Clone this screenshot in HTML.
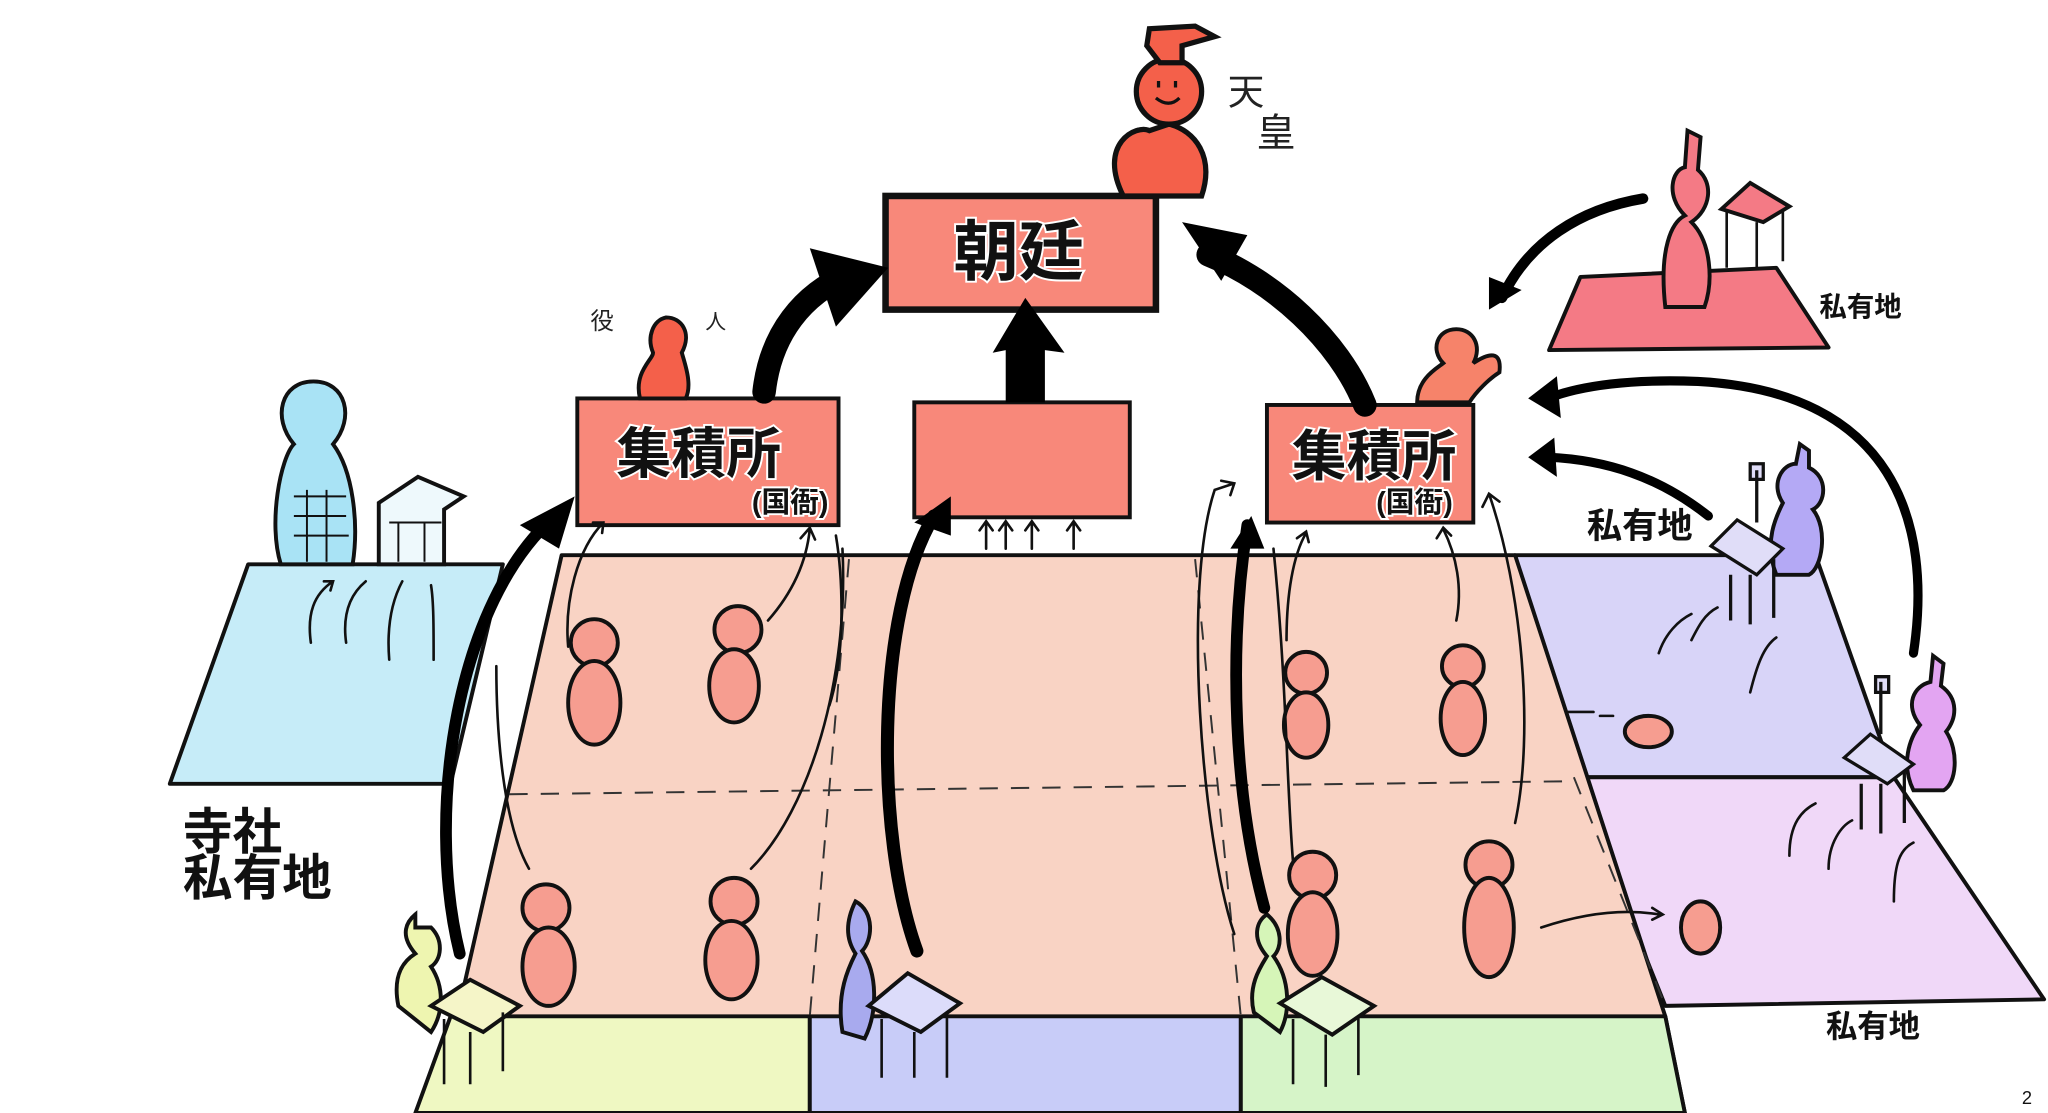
<!DOCTYPE html>
<html><head><meta charset="utf-8"><style>
html,body{margin:0;padding:0;background:#fff;}
svg{display:block}
.t{font-family:"Liberation Sans","Noto Sans CJK JP",sans-serif;font-weight:bold;}
</style></head><body>
<svg width="2048" height="1113" viewBox="0 0 1568 852" preserveAspectRatio="none" xmlns="http://www.w3.org/2000/svg">
<rect width="1568" height="852" fill="#fff"/>
<g stroke="#111" stroke-width="3" stroke-linejoin="round">
<!-- left blue land -->
<polygon points="190,432 385,432 345,600 130,600" fill="#c6ecf8"/>
<!-- purple right -->
<polygon points="1160,425 1390,425 1450,595 1205,595" fill="#d8d4f8"/>
<polygon points="1205,595 1450,595 1565,765 1275,770" fill="#f0d8f8"/>
<!-- central salmon -->
<polygon points="430,425 1160,425 1275,778 1290,852 320,852 350,778" fill="#f9d3c4"/>
<!-- bottom strips -->
<polygon points="345,778 620,778 620,852 318,852" fill="#eff8c2"/>
<polygon points="620,778 950,778 950,852 620,852" fill="#c8ccf8"/>
<polygon points="950,778 1275,778 1290,852 950,852" fill="#d6f4c8"/>
<!-- top-right red ground -->
<polygon points="1210,212 1360,205 1400,266 1186,268" fill="#f47a85"/>
</g>
<g stroke="#333" stroke-width="1.5" fill="none" stroke-dasharray="14 10">
<line x1="650" y1="428" x2="620" y2="778"/>
<line x1="915" y1="428" x2="950" y2="778"/>
<line x1="390" y1="608" x2="1205" y2="598"/>
<line x1="1205" y1="595" x2="1275" y2="770"/>
</g>
<!-- boxes -->
<g stroke="#111" stroke-width="5" fill="#f8887a">
<rect x="678" y="150" width="207" height="87"/>
<rect x="442" y="305" width="200" height="97" stroke-width="3"/>
<rect x="700" y="308" width="165" height="88" stroke-width="3"/>
<rect x="970" y="310" width="158" height="90" stroke-width="3"/>
</g>
<!-- emperor -->
<g stroke="#111" stroke-width="4" fill="#f4604a">
<path d="M860,150 C840,110 870,95 880,100 L895,95 C915,100 930,120 920,150 Z"/>
<circle cx="895" cy="70" r="25"/>
<path d="M878,35 L880,22 L915,20 L930,28 L905,35 L905,48 L888,48 Z"/>
</g>
<g stroke="#111" stroke-width="2.5" fill="none"><path d="M887,62 v5 M900,62 v5 M885,75 q10,8 18,0"/></g>
<!-- officials -->
<g stroke="#111" stroke-width="3" fill="#f4604a">
<path d="M490,305 C485,285 500,275 500,270 C495,258 500,245 510,243 C522,243 530,255 522,270 C525,280 530,295 525,305 Z"/>
<path d="M1085,308 C1085,290 1100,282 1105,278 C1095,268 1100,252 1115,252 C1128,252 1135,265 1128,278 C1140,270 1150,268 1148,285 C1140,290 1130,300 1125,308 Z" fill="#f6836a"/>
</g>
<!-- blue temple figure -->
<g stroke="#111" stroke-width="3" fill="#a9e3f5">
<path d="M215,432 C205,400 215,350 225,340 C208,320 215,292 240,292 C265,292 272,320 255,340 C270,360 275,400 270,432 Z"/>
<path d="M290,385 L320,365 L355,380 L340,390 L340,432 L290,432 Z" fill="#eef9fc"/>
</g>
<g stroke="#111" stroke-width="1.5" fill="none"><path d="M225,380 h40 M225,395 h40 M225,410 h42 M235,375 v55 M250,375 v55 M298,400 h40 M305,400 v30 M325,400 v30"/></g>
<!-- peasants salmon -->
<g stroke="#111" stroke-width="3" fill="#f69d90">
<g id="p1"><circle cx="455" cy="492" r="18"/><ellipse cx="455" cy="538" rx="20" ry="32"/></g>
<g><circle cx="565" cy="482" r="18"/><ellipse cx="562" cy="525" rx="19" ry="28"/></g>
<g><circle cx="418" cy="695" r="18"/><ellipse cx="420" cy="740" rx="20" ry="30"/></g>
<g><circle cx="562" cy="690" r="18"/><ellipse cx="560" cy="735" rx="20" ry="30"/></g>
<g><circle cx="1000" cy="515" r="16"/><ellipse cx="1000" cy="555" rx="17" ry="25"/></g>
<g><circle cx="1120" cy="510" r="16"/><ellipse cx="1120" cy="550" rx="17" ry="28"/></g>
<g><circle cx="1005" cy="670" r="18"/><ellipse cx="1005" cy="715" rx="19" ry="32"/></g>
<g><circle cx="1140" cy="662" r="18"/><ellipse cx="1140" cy="710" rx="19" ry="38"/></g>
<ellipse cx="1262" cy="560" rx="18" ry="12"/>
<ellipse cx="1302" cy="710" rx="15" ry="20"/>
</g>
<!-- red private owner -->
<g stroke="#111" stroke-width="3" fill="#f47a85">
<path d="M1275,235 C1270,190 1280,170 1290,165 C1275,150 1280,130 1290,128 L1292,100 L1302,105 L1300,130 C1312,140 1310,160 1295,170 C1310,185 1312,215 1305,235 Z"/>
<path d="M1318,160 L1340,140 L1370,158 L1350,170 Z"/>
</g>
<g stroke="#111" stroke-width="2" fill="none"><path d="M1322,160 v45 M1345,170 v35 M1365,160 v40"/></g>
<!-- purple figures -->
<g stroke="#111" stroke-width="3" fill="#b4a9f5">
<path d="M1360,440 C1350,415 1360,395 1365,385 C1355,370 1365,355 1375,355 L1378,340 L1385,345 L1385,358 C1400,365 1398,385 1388,390 C1400,405 1395,435 1385,440 Z"/>
<path d="M1465,605 C1455,585 1462,565 1470,555 C1458,540 1465,525 1478,522 L1480,502 L1488,508 L1486,525 C1500,535 1498,550 1490,560 C1500,575 1498,600 1488,605 Z" fill="#e3a5f2"/>
</g>
<g stroke="#111" stroke-width="2.5" fill="#e0ddf8">
<path d="M1310,418 L1330,398 L1365,420 L1345,440 Z"/>
<path d="M1325,440 v35 M1340,440 v38 M1358,428 v45"/>
<path d="M1412,580 L1432,562 L1465,585 L1445,600 Z"/>
<path d="M1425,600 v35 M1440,600 v38 M1458,590 v40"/>
<path d="M1345,360 v40 M1340,355 l10,0 l0,12 l-10,0 z M1440,522 v40 M1436,518 l10,0 l0,12 l-10,0 z"/>
</g>
<!-- bottom peasants with houses -->
<g stroke="#111" stroke-width="3">
<path d="M305,770 C300,745 310,735 318,730 C305,715 312,705 318,700 L318,710 L330,710 C340,720 338,735 330,740 C340,755 340,775 330,790 Z" fill="#eef5b0"/>
<path d="M645,790 C640,760 650,740 655,730 C645,715 650,700 655,690 C670,698 668,720 660,728 C672,745 672,775 662,795 Z" fill="#a8aaee"/>
<path d="M960,775 C955,755 965,740 970,732 C958,718 962,705 970,700 C982,710 982,725 975,732 C988,750 988,775 980,790 Z" fill="#d6f5b8"/>
<path d="M330,770 L360,750 L398,770 L370,790 Z" fill="#f5f5c8"/>
<path d="M665,770 L695,745 L735,768 L705,790 Z" fill="#dcdcfa"/>
<path d="M980,768 L1012,748 L1052,770 L1020,792 Z" fill="#e8f8d8"/>
</g>
<g stroke="#111" stroke-width="2" fill="none">
<path d="M340,780 v50 M360,790 v40 M385,775 v45 M675,780 v45 M700,790 v35 M725,775 v50 M990,780 v50 M1015,792 v40 M1040,778 v45"/>
</g>
<!-- thin arrows -->
<g stroke="#111" stroke-width="2" fill="none" stroke-linecap="round">
<path d="M238,492 C235,470 240,455 255,445 M248,445 l7,0 l-2,7"/>
<path d="M265,492 C262,470 268,455 280,445"/>
<path d="M298,505 C296,480 300,460 308,445"/>
<path d="M332,505 C332,480 332,460 330,448"/>
<path d="M435,495 C432,460 442,420 462,400 M454,400 l8,0 l-1,8"/>
<path d="M588,475 C610,450 618,425 620,405 M613,412 l7,-8 l4,9"/>
<path d="M635,540 C648,500 645,440 640,410"/>
<path d="M575,665 C620,620 650,520 645,420"/>
<path d="M405,665 C385,630 380,560 380,510"/>
<path d="M755,420 v-20 M770,420 v-20 M790,420 v-20 M822,420 v-20 M750,406 l5,-7 l5,7 M765,406 l5,-7 l5,7 M785,406 l5,-7 l5,7 M817,406 l5,-7 l5,7"/>
<path d="M985,490 C985,455 990,425 1000,408 M993,412 l7,-5 l2,8"/>
<path d="M1115,475 C1120,450 1115,425 1105,405 M1100,412 l5,-8 l6,6"/>
<path d="M1160,630 C1175,560 1165,450 1140,378 M1135,388 l5,-10 l8,6"/>
<path d="M990,660 C985,600 985,520 975,420"/>
<path d="M945,715 C920,640 905,450 930,375 L945,370 M935,368 l10,2 l-3,9"/>
<path d="M1270,500 C1275,485 1285,475 1295,470 M1295,490 C1300,480 1305,470 1315,465 M1340,530 C1345,510 1350,495 1360,488"/>
<path d="M1370,655 C1370,630 1380,620 1390,615 M1400,665 C1400,645 1410,632 1418,628 M1450,690 C1450,660 1455,650 1465,645"/>
<path d="M1200,545 h20 M1225,548 h10 M1180,710 C1210,700 1240,695 1270,700 M1265,695 l8,5 l-8,4"/>
</g>
<!-- big arrows -->
<g stroke="#000" fill="none" stroke-linecap="round">
<path d="M585,300 C590,255 615,225 650,210" stroke-width="18"/>
<path d="M1045,310 C1025,260 975,215 925,195" stroke-width="18"/>
<path d="M1258,152 C1210,160 1170,185 1150,228" stroke-width="8"/>
<path d="M1465,500 C1480,400 1450,300 1300,292 C1250,290 1210,295 1185,305" stroke-width="7"/>
<path d="M1308,395 C1270,365 1230,352 1185,350" stroke-width="7"/>
<path d="M352,730 C325,620 350,460 425,395" stroke-width="9"/>
<path d="M702,728 C670,640 670,470 715,395" stroke-width="10"/>
<path d="M968,695 C945,610 940,500 955,402" stroke-width="9"/>
</g>
<g fill="#000">
<polygon points="620,190 680,205 640,250"/>
<polygon points="905,170 955,180 935,215"/>
<polygon points="760,270 785,228 815,270 800,268 800,308 770,308 770,268"/>
<polygon points="1140,237 1140,212 1165,222"/>
<polygon points="1170,305 1192,288 1195,320"/>
<polygon points="1170,350 1190,335 1192,365"/>
<polygon points="440,380 398,402 428,420"/>
<polygon points="728,380 700,400 728,410"/>
<polygon points="958,395 942,420 968,420"/>
</g>
<!-- labels -->
<g class="t" text-anchor="middle" fill="#111" stroke="#fff" stroke-width="3" paint-order="stroke">
<text x="780" y="210" font-size="50">朝廷</text>
<text x="535" y="362" font-size="42">集積所</text>
<text x="605" y="392" font-size="22">(国衙)</text>
<text x="1052" y="364" font-size="42">集積所</text>
<text x="1083" y="392" font-size="22">(国衙)</text>
</g>
<g class="t" fill="#111">
<text x="140" y="650" font-size="38">寺社</text>
<text x="140" y="685" font-size="38">私有地</text>
<text x="1215" y="412" font-size="27">私有地</text>
<text x="1393" y="242" font-size="21">私有地</text>
<text x="1398" y="794" font-size="24">私有地</text>
<text x="1548" y="845" font-size="14" font-weight="normal">2</text>
</g>
<g font-family="'Liberation Sans','Noto Sans CJK JP',sans-serif" fill="#222">
<text x="940" y="80" font-size="28">天</text>
<text x="962" y="112" font-size="30">皇</text>
<text x="452" y="252" font-size="18">役</text>
<text x="540" y="252" font-size="16">人</text>
</g>
</svg>
</body></html>
